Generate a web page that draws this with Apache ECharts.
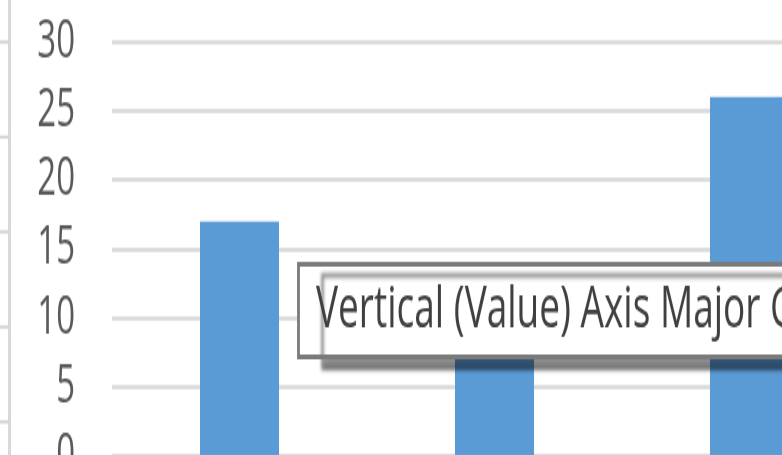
<!DOCTYPE html>
<html><head><meta charset="utf-8">
<script src="https://cdn.jsdelivr.net/npm/echarts@6/dist/echarts.min.js"></script>
<style>
html,body{margin:0;padding:0;width:782px;height:455px;overflow:hidden;background:#fff}
#c{width:900px;height:287px;transform:scaleY(1.5965);transform-origin:0 0;}
</style></head><body><div id="c"></div>
<script>
const categories = ['Category 1', 'Category 2', 'Category 3'];
const values = [17, 12, 26];
const yMin = 0, yMax = 30, yStep = 5;
const tooltipText = 'Vertical (Value) Axis Major Gridlines';

const chart = echarts.init(document.getElementById('c'), null, {renderer: 'canvas'});
const leftTicksY = [26.3, 85.8, 145.3, 204.8, 264.3];
const graphics = [
  {type: 'line', shape: {x1: 9.5, y1: 0, x2: 9.5, y2: 287}, style: {stroke: '#d9d9d9', lineWidth: 3}, z: 50},
  ...leftTicksY.map(y => ({type: 'line', shape: {x1: 0, y1: y, x2: 9, y2: y}, style: {stroke: '#d4d4d4', lineWidth: 2}, z: 50})),
  {type: 'rect', shape: {x: 298.5, y: 165.5, width: 620, height: 58}, z: 100,
   style: {fill: '#ffffff', stroke: '#7a7a7a', lineWidth: 2.8,
           shadowColor: 'rgba(0,0,0,0.45)', shadowBlur: 3, shadowOffsetX: 24, shadowOffsetY: 7}},
  {type: 'text', x: 316, y: 194.5, z: 101,
   style: {text: tooltipText, fill: '#404040', font: '37px "Open Sans"', verticalAlign: 'middle', align: 'left'}}
];

chart.setOption({
  animation: false,
  backgroundColor: '#ffffff',
  grid: {left: 112, right: 23, top: 26.3, bottom: 1.4, outerBoundsMode: 'none', containLabel: false},
  xAxis: {
    type: 'category', data: categories,
    axisLine: {show: false}, axisTick: {show: false}, axisLabel: {show: false}
  },
  yAxis: {
    type: 'value', min: yMin, max: yMax, interval: yStep,
    axisLine: {show: false}, axisTick: {show: false},
    axisLabel: {color: '#595959', fontSize: 33, fontFamily: 'Open Sans', margin: 37},
    splitLine: {lineStyle: {color: '#d9d9d9', width: 2.5}}
  },
  series: [{
    type: 'bar', data: values, barWidth: 79,
    itemStyle: {color: '#5b9bd5'}
  }],
  graphic: graphics
});
</script></body></html>
